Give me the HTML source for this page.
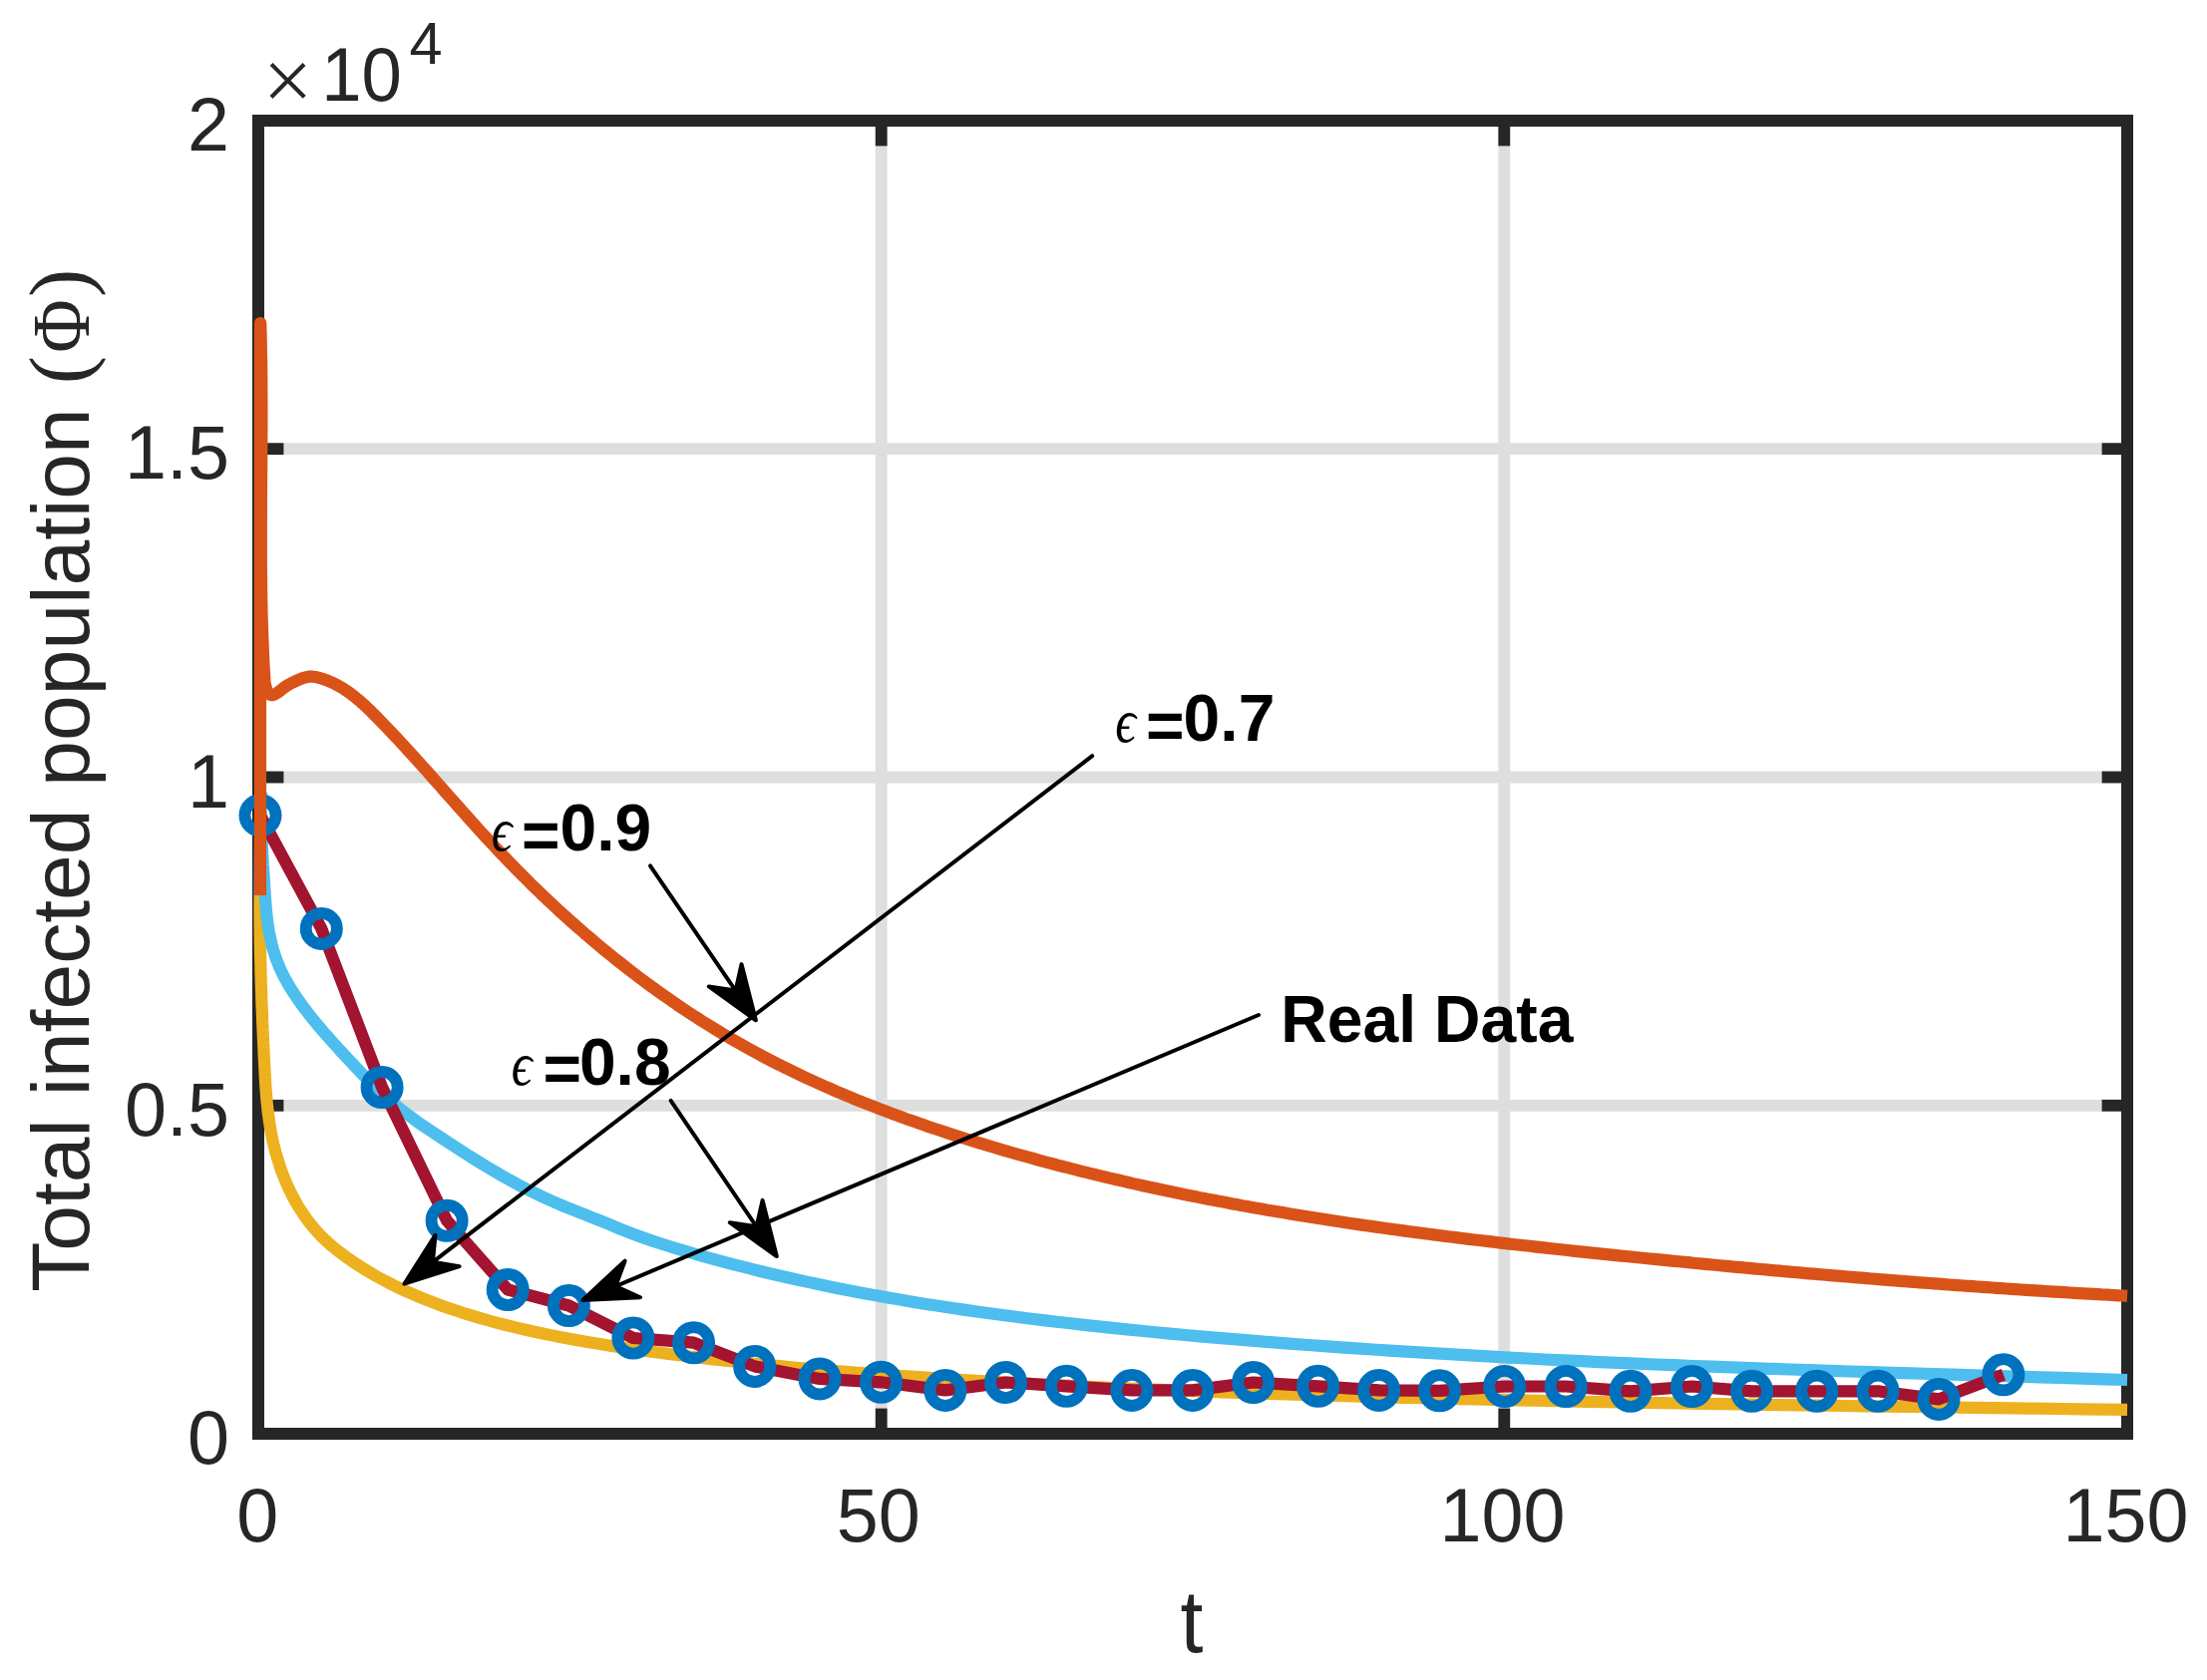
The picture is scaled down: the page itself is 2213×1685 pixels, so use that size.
<!DOCTYPE html>
<html lang="en"><head><meta charset="utf-8"><title>Total infected population</title>
<style>html,body{margin:0;padding:0;background:#fff}body{width:2213px;height:1685px;overflow:hidden}</style></head>
<body>
<svg width="2213" height="1685" viewBox="0 0 2213 1685" style="display:block">
<rect width="2213" height="1685" fill="#fff"/>
<line x1="883.7" y1="121.0" x2="883.7" y2="1438.0" stroke="#dedede" stroke-width="11.8"/>
<line x1="1508.3" y1="121.0" x2="1508.3" y2="1438.0" stroke="#dedede" stroke-width="11.8"/>
<line x1="259.0" y1="1108.8" x2="2133.0" y2="1108.8" stroke="#dedede" stroke-width="11.8"/>
<line x1="259.0" y1="779.5" x2="2133.0" y2="779.5" stroke="#dedede" stroke-width="11.8"/>
<line x1="259.0" y1="450.2" x2="2133.0" y2="450.2" stroke="#dedede" stroke-width="11.8"/>
<line x1="883.7" y1="1438.0" x2="883.7" y2="1412.6" stroke="#262626" stroke-width="11.8"/>
<line x1="883.7" y1="121.0" x2="883.7" y2="146.4" stroke="#262626" stroke-width="11.8"/>
<line x1="1508.3" y1="1438.0" x2="1508.3" y2="1412.6" stroke="#262626" stroke-width="11.8"/>
<line x1="1508.3" y1="121.0" x2="1508.3" y2="146.4" stroke="#262626" stroke-width="11.8"/>
<line x1="259.0" y1="1108.8" x2="284.4" y2="1108.8" stroke="#262626" stroke-width="11.8"/>
<line x1="2133.0" y1="1108.8" x2="2107.6" y2="1108.8" stroke="#262626" stroke-width="11.8"/>
<line x1="259.0" y1="779.5" x2="284.4" y2="779.5" stroke="#262626" stroke-width="11.8"/>
<line x1="2133.0" y1="779.5" x2="2107.6" y2="779.5" stroke="#262626" stroke-width="11.8"/>
<line x1="259.0" y1="450.2" x2="284.4" y2="450.2" stroke="#262626" stroke-width="11.8"/>
<line x1="2133.0" y1="450.2" x2="2107.6" y2="450.2" stroke="#262626" stroke-width="11.8"/>
<rect x="259.0" y="121.0" width="1874.0" height="1317.0" fill="none" stroke="#262626" stroke-width="12"/>
<path d="M260.6 898.0 L260.6 898.0 L260.6 898.0 L260.6 898.1 L260.6 898.1 L260.6 898.1 L260.6 898.2 L260.6 898.3 L260.6 898.3 L260.6 898.4 L260.6 898.5 L260.6 898.6 L260.6 898.7 L260.6 898.8 L260.6 898.9 L260.6 899.0 L260.6 899.1 L260.6 899.2 L260.6 899.4 L260.6 899.5 L260.6 899.7 L260.6 899.9 L260.6 900.0 L260.6 900.2 L260.6 900.4 L260.6 900.6 L260.6 900.8 L260.6 901.1 L260.6 901.3 L260.6 901.6 L260.6 901.8 L260.6 902.1 L260.6 902.4 L260.6 902.7 L260.6 903.0 L260.6 903.4 L260.5 903.7 L260.5 904.1 L260.5 904.5 L260.5 904.9 L260.5 905.3 L260.5 905.7 L260.5 906.2 L260.5 906.6 L260.5 907.1 L260.5 907.6 L260.5 908.1 L260.5 908.7 L260.5 909.2 L260.5 909.8 L260.5 910.4 L260.5 911.0 L260.5 911.6 L260.5 912.3 L260.5 913.0 L260.5 913.7 L260.5 914.4 L260.5 915.2 L260.5 916.0 L260.5 916.8 L260.5 917.6 L260.5 918.4 L260.5 919.3 L260.5 920.2 L260.5 921.2 L260.6 922.1 L260.6 923.1 L260.6 924.1 L260.6 925.2 L260.6 926.2 L260.6 927.3 L260.6 928.5 L260.6 929.6 L260.6 930.8 L260.6 932.1 L260.7 933.3 L260.7 934.6 L260.7 936.0 L260.7 937.3 L260.7 938.7 L260.7 940.1 L260.8 941.6 L260.8 943.1 L260.8 944.7 L260.8 946.2 L260.9 947.8 L260.9 949.5 L260.9 951.2 L261.0 952.9 L261.0 954.7 L261.0 956.5 L261.1 958.3 L261.1 960.2 L261.2 962.2 L261.2 964.1 L261.3 966.2 L261.3 968.2 L261.4 970.3 L261.4 972.5 L261.5 974.7 L261.5 976.9 L261.6 979.2 L261.7 981.5 L261.7 983.9 L261.8 986.4 L261.9 988.8 L262.0 991.4 L262.1 993.9 L262.2 996.6 L262.2 999.3 L262.3 1002.0 L262.4 1004.8 L262.5 1007.6 L262.6 1010.5 L262.8 1013.4 L262.9 1016.4 L263.0 1019.5 L263.1 1022.6 L263.2 1025.8 L263.4 1029.0 L263.5 1032.3 L263.7 1035.6 L263.8 1039.0 L264.0 1042.5 L264.1 1046.0 L264.3 1049.5 L264.5 1053.2 L264.6 1056.9 L264.8 1060.6 L265.0 1064.5 L265.2 1068.4 L265.4 1072.3 L265.6 1076.3 L265.8 1080.4 L266.1 1084.6 L266.3 1088.8 L266.6 1093.0 L267.0 1097.4 L267.3 1101.8 L267.7 1106.2 L268.2 1110.7 L268.7 1115.3 L269.3 1119.9 L270.0 1124.5 L270.7 1129.3 L271.5 1134.0 L272.4 1138.8 L273.4 1143.7 L274.6 1148.6 L275.8 1153.6 L277.2 1158.6 L278.7 1163.6 L280.3 1168.7 L282.0 1173.8 L284.0 1179.0 L286.1 1184.1 L288.3 1189.4 L290.8 1194.6 L293.4 1199.8 L296.2 1205.0 L299.2 1210.2 L302.5 1215.3 L305.9 1220.4 L309.6 1225.4 L313.5 1230.3 L317.7 1235.1 L322.1 1239.8 L326.8 1244.4 L331.7 1248.8 L336.9 1253.1 L342.3 1257.2 L347.9 1261.3 L353.6 1265.3 L359.5 1269.2 L365.6 1273.1 L371.8 1276.8 L378.2 1280.5 L384.7 1284.0 L391.4 1287.5 L398.2 1290.9 L405.1 1294.1 L412.2 1297.3 L419.4 1300.4 L426.8 1303.4 L434.3 1306.3 L441.9 1309.2 L449.6 1311.9 L457.5 1314.6 L465.5 1317.2 L473.6 1319.7 L481.8 1322.1 L490.2 1324.5 L498.7 1326.8 L507.3 1329.0 L516.0 1331.1 L524.9 1333.2 L533.9 1335.3 L543.0 1337.2 L552.2 1339.1 L561.5 1341.0 L571.0 1342.8 L580.6 1344.5 L590.3 1346.2 L600.1 1347.8 L610.1 1349.4 L620.1 1350.9 L630.3 1352.5 L640.6 1353.9 L650.9 1355.4 L661.4 1356.8 L672.1 1358.1 L682.8 1359.5 L693.6 1360.8 L704.6 1362.1 L715.6 1363.4 L726.8 1364.6 L738.1 1365.8 L749.5 1367.0 L761.0 1368.2 L772.6 1369.3 L784.3 1370.4 L796.2 1371.5 L808.2 1372.6 L820.3 1373.6 L832.5 1374.6 L844.8 1375.6 L857.3 1376.6 L869.9 1377.6 L882.6 1378.5 L895.4 1379.4 L908.3 1380.3 L921.4 1381.2 L934.6 1382.1 L947.9 1382.9 L961.3 1383.8 L974.9 1384.6 L988.6 1385.4 L1002.4 1386.2 L1016.4 1387.0 L1030.5 1387.7 L1044.7 1388.5 L1059.0 1389.2 L1073.5 1389.9 L1088.1 1390.6 L1102.8 1391.3 L1117.7 1392.0 L1132.7 1392.6 L1147.8 1393.3 L1163.1 1393.9 L1178.5 1394.5 L1194.0 1395.1 L1209.7 1395.7 L1225.5 1396.3 L1241.4 1396.8 L1257.5 1397.4 L1273.7 1397.9 L1290.1 1398.4 L1306.6 1398.9 L1323.2 1399.4 L1340.0 1399.9 L1356.9 1400.4 L1373.9 1400.9 L1391.1 1401.3 L1408.5 1401.8 L1426.0 1402.2 L1443.6 1402.6 L1461.4 1403.1 L1479.3 1403.5 L1497.4 1403.9 L1515.6 1404.3 L1533.9 1404.6 L1552.5 1405.0 L1571.1 1405.4 L1589.9 1405.8 L1608.9 1406.1 L1628.0 1406.5 L1647.2 1406.8 L1666.6 1407.1 L1686.2 1407.5 L1705.9 1407.8 L1725.8 1408.1 L1745.8 1408.4 L1766.0 1408.8 L1786.3 1409.1 L1806.8 1409.4 L1827.4 1409.7 L1848.2 1410.0 L1869.1 1410.3 L1890.3 1410.6 L1911.5 1410.9 L1932.9 1411.2 L1954.5 1411.5 L1976.3 1411.8 L1998.2 1412.1 L2020.2 1412.4 L2042.5 1412.7 L2064.9 1413.0 L2087.4 1413.3 L2110.1 1413.6 L2133.0 1413.9" fill="none" stroke="#edb120" stroke-width="12.2" stroke-linejoin="round" stroke-linecap="butt" />
<path d="M260.6 898.0 L261.2 797.0 L262.1 797.0 L262.1 797.0 L262.1 797.0 L262.1 797.1 L262.1 797.1 L262.1 797.2 L262.1 797.3 L262.1 797.3 L262.1 797.4 L262.0 797.5 L262.0 797.6 L262.0 797.7 L262.0 797.8 L262.0 797.9 L262.0 798.1 L262.0 798.2 L262.0 798.4 L261.9 798.5 L261.9 798.7 L261.9 798.8 L261.9 799.0 L261.9 799.2 L261.9 799.4 L261.9 799.6 L261.9 799.8 L261.8 800.1 L261.8 800.3 L261.8 800.5 L261.8 800.8 L261.8 801.1 L261.8 801.3 L261.8 801.6 L261.7 801.9 L261.7 802.3 L261.7 802.6 L261.7 802.9 L261.7 803.3 L261.7 803.7 L261.7 804.1 L261.7 804.5 L261.7 804.9 L261.6 805.3 L261.6 805.7 L261.6 806.2 L261.6 806.7 L261.6 807.2 L261.6 807.7 L261.6 808.2 L261.6 808.8 L261.6 809.3 L261.6 809.9 L261.6 810.5 L261.6 811.1 L261.6 811.8 L261.6 812.4 L261.6 813.1 L261.6 813.8 L261.6 814.5 L261.6 815.3 L261.7 816.1 L261.7 816.9 L261.7 817.7 L261.7 818.5 L261.7 819.4 L261.7 820.3 L261.8 821.2 L261.8 822.1 L261.8 823.1 L261.8 824.1 L261.9 825.1 L261.9 826.2 L261.9 827.3 L262.0 828.4 L262.0 829.5 L262.0 830.7 L262.1 831.9 L262.1 833.1 L262.2 834.4 L262.2 835.7 L262.3 837.0 L262.3 838.4 L262.4 839.8 L262.5 841.2 L262.5 842.7 L262.6 844.2 L262.7 845.8 L262.8 847.3 L262.8 849.0 L262.9 850.6 L263.0 852.3 L263.1 854.1 L263.2 855.9 L263.3 857.7 L263.4 859.5 L263.5 861.5 L263.6 863.4 L263.7 865.4 L263.8 867.5 L264.0 869.5 L264.1 871.7 L264.2 873.9 L264.4 876.1 L264.5 878.4 L264.7 880.7 L264.8 883.1 L265.0 885.5 L265.1 888.0 L265.3 890.6 L265.5 893.2 L265.7 895.8 L265.8 898.5 L266.0 901.3 L266.2 904.1 L266.4 906.9 L266.7 909.9 L266.9 912.8 L267.2 915.8 L267.5 918.9 L267.9 922.0 L268.3 925.2 L268.7 928.4 L269.2 931.6 L269.8 934.9 L270.5 938.2 L271.2 941.5 L271.9 944.9 L272.8 948.3 L273.7 951.8 L274.8 955.2 L275.9 958.7 L277.1 962.2 L278.5 965.8 L279.9 969.3 L281.5 972.9 L283.2 976.5 L285.0 980.0 L287.0 983.7 L289.0 987.3 L291.2 990.9 L293.5 994.6 L295.9 998.2 L298.4 1001.9 L301.0 1005.6 L303.7 1009.4 L306.6 1013.1 L309.5 1016.9 L312.5 1020.7 L315.6 1024.5 L318.8 1028.4 L322.1 1032.2 L325.4 1036.1 L328.9 1040.1 L332.4 1044.0 L336.0 1048.0 L339.6 1052.0 L343.3 1056.0 L347.1 1060.1 L350.9 1064.2 L354.8 1068.3 L358.8 1072.5 L362.8 1076.7 L366.9 1080.9 L371.2 1085.0 L375.5 1089.2 L379.9 1093.4 L384.4 1097.6 L389.1 1101.8 L393.8 1105.9 L398.8 1110.1 L403.8 1114.2 L409.1 1118.2 L414.5 1122.2 L420.0 1126.2 L425.8 1130.1 L431.6 1134.0 L437.5 1137.9 L443.5 1141.9 L449.6 1145.9 L455.8 1149.9 L462.0 1153.9 L468.3 1158.0 L474.7 1162.0 L481.2 1166.0 L487.8 1170.1 L494.5 1174.1 L501.3 1178.1 L508.3 1182.0 L515.4 1185.9 L522.6 1189.8 L530.0 1193.6 L537.6 1197.3 L545.3 1201.0 L553.1 1204.5 L561.1 1208.0 L569.2 1211.3 L577.5 1214.6 L585.8 1217.9 L594.3 1221.3 L602.8 1224.7 L611.4 1228.2 L620.0 1231.8 L628.8 1235.4 L637.7 1238.8 L646.8 1242.1 L656.1 1245.3 L665.5 1248.3 L675.0 1251.3 L684.7 1254.2 L694.5 1257.0 L704.4 1259.8 L714.5 1262.6 L724.7 1265.4 L734.9 1268.1 L745.4 1270.7 L755.9 1273.4 L766.5 1276.0 L777.3 1278.5 L788.2 1281.0 L799.2 1283.5 L810.3 1285.9 L821.6 1288.3 L833.0 1290.7 L844.5 1293.0 L856.1 1295.2 L867.8 1297.5 L879.7 1299.6 L891.7 1301.8 L903.9 1303.8 L916.1 1305.9 L928.5 1307.9 L941.0 1309.8 L953.7 1311.8 L966.4 1313.6 L979.3 1315.5 L992.3 1317.3 L1005.5 1319.0 L1018.8 1320.8 L1032.2 1322.5 L1045.7 1324.1 L1059.4 1325.7 L1073.2 1327.3 L1087.1 1328.9 L1101.2 1330.4 L1115.3 1331.9 L1129.7 1333.4 L1144.1 1334.8 L1158.7 1336.2 L1173.4 1337.6 L1188.2 1339.0 L1203.2 1340.3 L1218.3 1341.6 L1233.5 1342.9 L1248.9 1344.2 L1264.4 1345.4 L1280.0 1346.7 L1295.8 1347.9 L1311.7 1349.0 L1327.7 1350.2 L1343.9 1351.3 L1360.2 1352.4 L1376.7 1353.5 L1393.3 1354.6 L1410.0 1355.7 L1426.9 1356.7 L1443.9 1357.7 L1461.1 1358.7 L1478.4 1359.7 L1495.9 1360.7 L1513.5 1361.6 L1531.2 1362.5 L1549.1 1363.5 L1567.1 1364.3 L1585.3 1365.2 L1603.6 1366.1 L1622.1 1366.9 L1640.7 1367.7 L1659.4 1368.5 L1678.3 1369.2 L1697.4 1370.0 L1716.6 1370.7 L1736.0 1371.4 L1755.5 1372.1 L1775.1 1372.8 L1794.9 1373.5 L1814.9 1374.2 L1835.0 1374.8 L1855.3 1375.5 L1875.7 1376.1 L1896.3 1376.8 L1917.0 1377.4 L1937.9 1378.0 L1958.9 1378.7 L1980.1 1379.3 L2001.5 1380.0 L2023.0 1380.6 L2044.7 1381.3 L2066.5 1381.9 L2088.5 1382.6 L2110.7 1383.3 L2133.0 1384.0" fill="none" stroke="#4dbeee" stroke-width="12.2" stroke-linejoin="round" stroke-linecap="butt" />
<path d="M261.0 817.8 L322.3 931.4 L383.1 1090.5 L448.1 1224.3 L509.2 1293.5 L570.4 1309.5 L634.9 1342.0 L695.6 1346.7 L756.7 1370.4 L822.0 1382.9 L883.5 1386.3 L947.9 1394.4 L1008.5 1386.5 L1069.4 1390.3 L1134.9 1394.4 L1195.8 1394.4 L1256.7 1386.5 L1321.7 1390.3 L1382.6 1394.4 L1443.5 1394.8 L1508.7 1390.5 L1570.2 1390.5 L1635.0 1395.3 L1696.5 1390.5 L1756.6 1395.3 L1821.8 1395.3 L1883.0 1395.3 L1944.0 1403.4 L2008.9 1378.8" fill="none" stroke="#a2142f" stroke-width="12.2" stroke-linejoin="round"/>
<circle cx="261.0" cy="817.8" r="15.6" fill="none" stroke="#0072bd" stroke-width="11.8"/>
<circle cx="322.3" cy="931.4" r="15.6" fill="none" stroke="#0072bd" stroke-width="11.8"/>
<circle cx="383.1" cy="1090.5" r="15.6" fill="none" stroke="#0072bd" stroke-width="11.8"/>
<circle cx="448.1" cy="1224.3" r="15.6" fill="none" stroke="#0072bd" stroke-width="11.8"/>
<circle cx="509.2" cy="1293.5" r="15.6" fill="none" stroke="#0072bd" stroke-width="11.8"/>
<circle cx="570.4" cy="1309.5" r="15.6" fill="none" stroke="#0072bd" stroke-width="11.8"/>
<circle cx="634.9" cy="1342.0" r="15.6" fill="none" stroke="#0072bd" stroke-width="11.8"/>
<circle cx="695.6" cy="1346.7" r="15.6" fill="none" stroke="#0072bd" stroke-width="11.8"/>
<circle cx="756.7" cy="1370.4" r="15.6" fill="none" stroke="#0072bd" stroke-width="11.8"/>
<circle cx="822.0" cy="1382.9" r="15.6" fill="none" stroke="#0072bd" stroke-width="11.8"/>
<circle cx="883.5" cy="1386.3" r="15.6" fill="none" stroke="#0072bd" stroke-width="11.8"/>
<circle cx="947.9" cy="1394.4" r="15.6" fill="none" stroke="#0072bd" stroke-width="11.8"/>
<circle cx="1008.5" cy="1386.5" r="15.6" fill="none" stroke="#0072bd" stroke-width="11.8"/>
<circle cx="1069.4" cy="1390.3" r="15.6" fill="none" stroke="#0072bd" stroke-width="11.8"/>
<circle cx="1134.9" cy="1394.4" r="15.6" fill="none" stroke="#0072bd" stroke-width="11.8"/>
<circle cx="1195.8" cy="1394.4" r="15.6" fill="none" stroke="#0072bd" stroke-width="11.8"/>
<circle cx="1256.7" cy="1386.5" r="15.6" fill="none" stroke="#0072bd" stroke-width="11.8"/>
<circle cx="1321.7" cy="1390.3" r="15.6" fill="none" stroke="#0072bd" stroke-width="11.8"/>
<circle cx="1382.6" cy="1394.4" r="15.6" fill="none" stroke="#0072bd" stroke-width="11.8"/>
<circle cx="1443.5" cy="1394.8" r="15.6" fill="none" stroke="#0072bd" stroke-width="11.8"/>
<circle cx="1508.7" cy="1390.5" r="15.6" fill="none" stroke="#0072bd" stroke-width="11.8"/>
<circle cx="1570.2" cy="1390.5" r="15.6" fill="none" stroke="#0072bd" stroke-width="11.8"/>
<circle cx="1635.0" cy="1395.3" r="15.6" fill="none" stroke="#0072bd" stroke-width="11.8"/>
<circle cx="1696.5" cy="1390.5" r="15.6" fill="none" stroke="#0072bd" stroke-width="11.8"/>
<circle cx="1756.6" cy="1395.3" r="15.6" fill="none" stroke="#0072bd" stroke-width="11.8"/>
<circle cx="1821.8" cy="1395.3" r="15.6" fill="none" stroke="#0072bd" stroke-width="11.8"/>
<circle cx="1883.0" cy="1395.3" r="15.6" fill="none" stroke="#0072bd" stroke-width="11.8"/>
<circle cx="1944.0" cy="1403.4" r="15.6" fill="none" stroke="#0072bd" stroke-width="11.8"/>
<circle cx="2008.9" cy="1378.8" r="15.6" fill="none" stroke="#0072bd" stroke-width="11.8"/>
<path d="M261.0 898.0 L261.0 324.0 L261.2 324.0 L261.5 333.5 L261.7 343.0 L261.9 352.6 L262.1 362.1 L262.2 371.6 L262.3 381.1 L262.3 390.6 L262.4 400.0 L262.4 409.5 L262.4 419.0 L262.4 428.5 L262.3 437.9 L262.3 447.4 L262.2 456.9 L262.2 466.3 L262.1 475.8 L262.0 485.3 L262.0 494.7 L261.9 504.2 L261.9 513.7 L261.8 523.1 L261.8 532.6 L261.8 542.1 L261.8 551.5 L261.8 561.0 L261.9 570.5 L262.0 580.0 L262.1 589.5 L262.2 599.0 L262.4 608.5 L262.6 618.0 L262.9 627.5 L263.2 637.0 L263.6 646.5 L264.0 656.0 L264.4 665.6 L265.0 675.1 L265.5 684.7 L267.7 693.7 L268.3 694.5 L268.9 695.2 L269.6 695.9 L270.3 696.4 L271.0 696.8 L271.8 697.1 L272.6 697.1 L273.4 697.1 L274.2 696.9 L275.0 696.6 L275.9 696.2 L276.7 695.7 L277.5 695.2 L278.3 694.7 L279.0 694.2 L279.8 693.6 L280.6 693.0 L281.3 692.4 L282.0 691.9 L282.8 691.3 L283.5 690.7 L284.3 690.1 L285.0 689.5 L285.8 689.0 L286.5 688.4 L287.3 687.9 L288.0 687.5 L288.8 687.0 L289.6 686.6 L290.4 686.1 L291.2 685.7 L292.0 685.3 L292.8 684.9 L293.6 684.5 L294.4 684.1 L295.3 683.7 L296.1 683.3 L296.9 682.9 L297.8 682.5 L298.6 682.2 L299.5 681.8 L300.3 681.4 L301.2 681.1 L302.0 680.7 L302.9 680.4 L303.8 680.1 L304.6 679.8 L305.5 679.6 L306.4 679.4 L307.3 679.2 L308.2 679.0 L309.1 678.9 L310.0 678.7 L310.9 678.7 L311.8 678.6 L312.7 678.7 L313.6 678.7 L314.5 678.8 L315.4 678.9 L316.4 679.0 L317.3 679.2 L318.2 679.4 L319.1 679.6 L320.0 679.9 L320.9 680.1 L321.8 680.4 L322.7 680.6 L323.6 680.9 L324.5 681.2 L325.4 681.5 L326.2 681.8 L327.1 682.1 L328.0 682.5 L328.8 682.8 L329.7 683.1 L330.5 683.5 L331.4 683.9 L332.2 684.2 L333.0 684.6 L333.9 685.0 L334.7 685.4 L335.5 685.8 L336.3 686.2 L337.1 686.6 L337.9 687.0 L338.7 687.5 L339.5 687.9 L340.3 688.3 L341.1 688.8 L341.9 689.3 L342.7 689.7 L343.4 690.2 L344.2 690.7 L345.0 691.2 L345.7 691.7 L346.5 692.2 L347.2 692.7 L348.0 693.2 L348.7 693.7 L349.5 694.2 L350.2 694.7 L351.0 695.3 L351.7 695.8 L352.4 696.3 L353.1 696.9 L353.9 697.5 L354.6 698.0 L355.3 698.6 L356.0 699.1 L356.7 699.7 L357.4 700.3 L358.1 700.9 L358.8 701.5 L359.5 702.0 L360.2 702.6 L360.9 703.2 L361.6 703.8 L362.3 704.4 L363.0 705.1 L363.6 705.7 L364.4 706.3 L367.9 709.6 L371.5 713.0 L374.9 716.5 L378.4 719.9 L381.8 723.4 L385.2 726.9 L388.5 730.4 L391.9 734.0 L395.2 737.5 L398.6 741.0 L401.9 744.6 L405.2 748.2 L408.5 751.8 L411.7 755.3 L415.0 758.9 L418.2 762.5 L421.5 766.1 L424.7 769.7 L428.0 773.3 L431.2 777.0 L434.4 780.6 L437.6 784.2 L440.8 787.8 L444.0 791.5 L447.2 795.1 L450.4 798.7 L453.6 802.3 L456.8 805.9 L460.1 809.6 L463.3 813.2 L466.5 816.8 L469.7 820.4 L472.9 824.0 L476.2 827.6 L479.4 831.2 L482.7 834.8 L485.9 838.3 L489.2 841.9 L492.5 845.4 L495.8 849.0 L499.1 852.5 L502.4 856.0 L505.8 859.5 L509.1 863.0 L512.5 866.5 L515.9 870.0 L519.3 873.5 L522.7 876.9 L526.1 880.3 L529.6 883.8 L533.0 887.2 L536.5 890.6 L540.0 893.9 L543.5 897.3 L547.0 900.6 L550.5 904.0 L554.1 907.3 L557.6 910.6 L561.2 913.9 L564.8 917.2 L568.4 920.4 L572.0 923.7 L575.6 926.9 L579.3 930.1 L582.9 933.3 L586.6 936.5 L590.3 939.7 L594.0 942.8 L597.7 946.0 L601.4 949.1 L605.2 952.2 L608.9 955.3 L612.7 958.3 L616.5 961.4 L620.3 964.4 L624.1 967.4 L627.9 970.4 L631.7 973.4 L635.6 976.3 L639.4 979.3 L643.3 982.2 L647.2 985.1 L651.1 988.0 L655.0 990.8 L659.0 993.7 L662.9 996.5 L666.9 999.3 L670.9 1002.1 L674.8 1004.8 L678.8 1007.6 L682.9 1010.3 L686.9 1013.0 L690.9 1015.7 L695.0 1018.3 L699.1 1020.9 L703.1 1023.6 L707.2 1026.1 L711.3 1028.7 L715.5 1031.3 L719.6 1033.8 L723.7 1036.3 L727.9 1038.7 L732.1 1041.2 L736.3 1043.6 L740.5 1046.0 L744.7 1048.4 L748.9 1050.8 L753.1 1053.1 L757.4 1055.4 L761.6 1057.7 L765.9 1060.0 L770.2 1062.2 L774.5 1064.5 L778.8 1066.7 L783.1 1068.8 L787.5 1071.0 L791.8 1073.1 L796.2 1075.2 L800.5 1077.3 L804.9 1079.4 L809.3 1081.5 L813.7 1083.5 L818.1 1085.5 L822.5 1087.5 L826.9 1089.5 L831.4 1091.4 L835.8 1093.4 L840.3 1095.3 L844.7 1097.2 L849.2 1099.1 L853.7 1100.9 L858.2 1102.8 L862.7 1104.6 L867.2 1106.4 L871.7 1108.2 L876.2 1109.9 L880.7 1111.7 L885.3 1113.4 L889.8 1115.2 L894.3 1116.9 L898.9 1118.5 L903.5 1120.2 L908.0 1121.9 L912.6 1123.5 L917.2 1125.1 L921.8 1126.7 L926.3 1128.3 L930.9 1129.9 L935.5 1131.5 L940.2 1133.0 L944.8 1134.6 L949.4 1136.1 L954.0 1137.6 L958.6 1139.1 L963.3 1140.6 L967.9 1142.0 L972.5 1143.5 L977.2 1144.9 L981.8 1146.3 L986.5 1147.7 L991.1 1149.1 L995.8 1150.5 L1000.4 1151.9 L1005.1 1153.3 L1009.7 1154.6 L1014.4 1156.0 L1019.1 1157.3 L1023.7 1158.6 L1028.4 1159.9 L1033.1 1161.2 L1037.8 1162.5 L1042.5 1163.8 L1047.1 1165.1 L1051.8 1166.3 L1056.5 1167.5 L1061.2 1168.8 L1065.9 1170.0 L1070.6 1171.2 L1075.3 1172.4 L1080.0 1173.6 L1084.7 1174.8 L1089.4 1175.9 L1094.1 1177.1 L1098.8 1178.2 L1103.5 1179.4 L1108.2 1180.5 L1112.9 1181.6 L1117.7 1182.7 L1122.4 1183.8 L1127.1 1184.9 L1131.8 1186.0 L1136.5 1187.1 L1141.3 1188.1 L1146.0 1189.2 L1150.7 1190.2 L1155.5 1191.2 L1160.2 1192.3 L1164.9 1193.3 L1169.7 1194.3 L1174.4 1195.3 L1179.2 1196.3 L1183.9 1197.2 L1188.6 1198.2 L1193.4 1199.2 L1198.1 1200.1 L1202.9 1201.1 L1207.7 1202.0 L1212.4 1202.9 L1217.2 1203.8 L1221.9 1204.7 L1226.7 1205.6 L1231.4 1206.5 L1236.2 1207.4 L1241.0 1208.3 L1245.7 1209.2 L1250.5 1210.0 L1255.3 1210.9 L1260.0 1211.7 L1264.8 1212.6 L1269.6 1213.4 L1274.4 1214.2 L1279.1 1215.0 L1283.9 1215.8 L1288.7 1216.6 L1293.5 1217.4 L1298.3 1218.2 L1303.1 1219.0 L1307.8 1219.8 L1312.6 1220.6 L1317.4 1221.3 L1322.2 1222.1 L1327.0 1222.8 L1331.8 1223.6 L1336.6 1224.3 L1341.4 1225.0 L1346.2 1225.7 L1351.0 1226.5 L1355.8 1227.2 L1360.6 1227.9 L1365.4 1228.6 L1370.2 1229.3 L1375.0 1229.9 L1379.8 1230.6 L1384.6 1231.3 L1389.4 1232.0 L1394.2 1232.6 L1399.0 1233.3 L1403.8 1233.9 L1408.6 1234.6 L1413.4 1235.2 L1418.2 1235.9 L1423.0 1236.5 L1427.8 1237.1 L1432.7 1237.8 L1437.5 1238.4 L1442.3 1239.0 L1447.1 1239.6 L1451.9 1240.2 L1456.7 1240.8 L1461.5 1241.4 L1466.4 1242.0 L1471.2 1242.6 L1476.0 1243.2 L1480.8 1243.7 L1485.6 1244.3 L1490.5 1244.9 L1495.3 1245.4 L1500.1 1246.0 L1504.9 1246.6 L1509.7 1247.1 L1514.6 1247.7 L1519.4 1248.2 L1524.2 1248.8 L1529.0 1249.3 L1533.9 1249.8 L1538.7 1250.4 L1543.5 1250.9 L1548.3 1251.4 L1553.2 1252.0 L1558.0 1252.5 L1562.8 1253.0 L1567.6 1253.5 L1572.5 1254.0 L1577.3 1254.6 L1582.1 1255.1 L1586.9 1255.6 L1591.8 1256.1 L1596.6 1256.6 L1601.4 1257.1 L1606.2 1257.6 L1611.1 1258.1 L1615.9 1258.6 L1620.7 1259.1 L1625.5 1259.6 L1630.4 1260.0 L1635.2 1260.5 L1640.0 1261.0 L1644.9 1261.5 L1649.7 1262.0 L1654.5 1262.5 L1659.3 1262.9 L1664.2 1263.4 L1669.0 1263.9 L1673.8 1264.4 L1678.6 1264.8 L1683.5 1265.3 L1688.3 1265.8 L1693.1 1266.2 L1697.9 1266.7 L1702.8 1267.2 L1707.6 1267.6 L1712.4 1268.1 L1717.2 1268.5 L1722.1 1269.0 L1726.9 1269.5 L1731.7 1269.9 L1736.5 1270.4 L1741.4 1270.8 L1746.2 1271.2 L1751.0 1271.7 L1755.9 1272.1 L1760.7 1272.6 L1765.5 1273.0 L1770.3 1273.4 L1775.2 1273.9 L1780.0 1274.3 L1784.8 1274.7 L1789.6 1275.2 L1794.5 1275.6 L1799.3 1276.0 L1804.1 1276.4 L1808.9 1276.9 L1813.8 1277.3 L1818.6 1277.7 L1823.4 1278.1 L1828.3 1278.5 L1833.1 1278.9 L1837.9 1279.3 L1842.7 1279.7 L1847.6 1280.1 L1852.4 1280.5 L1857.2 1280.9 L1862.1 1281.3 L1866.9 1281.7 L1871.7 1282.1 L1876.5 1282.5 L1881.4 1282.9 L1886.2 1283.3 L1891.0 1283.7 L1895.9 1284.1 L1900.7 1284.4 L1905.5 1284.8 L1910.4 1285.2 L1915.2 1285.6 L1920.0 1285.9 L1924.9 1286.3 L1929.7 1286.7 L1934.5 1287.0 L1939.4 1287.4 L1944.2 1287.7 L1949.0 1288.1 L1953.9 1288.5 L1958.7 1288.8 L1963.5 1289.2 L1968.4 1289.5 L1973.2 1289.8 L1978.0 1290.2 L1982.9 1290.5 L1987.7 1290.9 L1992.5 1291.2 L1997.4 1291.5 L2002.2 1291.9 L2007.1 1292.2 L2011.9 1292.5 L2016.7 1292.8 L2021.6 1293.2 L2026.4 1293.5 L2031.3 1293.8 L2036.1 1294.1 L2040.9 1294.4 L2045.8 1294.7 L2050.6 1295.0 L2055.5 1295.3 L2060.3 1295.6 L2065.1 1295.9 L2070.0 1296.2 L2074.8 1296.5 L2079.7 1296.8 L2084.5 1297.1 L2089.4 1297.4 L2094.2 1297.6 L2099.1 1297.9 L2103.9 1298.2 L2108.8 1298.5 L2113.6 1298.7 L2118.5 1299.0 L2123.3 1299.3 L2128.2 1299.5 L2133.0 1299.8" fill="none" stroke="#d95319" stroke-width="12.2" stroke-linejoin="round" stroke-linecap="butt" />
<line x1="652.0" y1="868.4" x2="737.6" y2="993.6" stroke="#000" stroke-width="4.0" stroke-linecap="round"/><polygon points="757.9,1023.3 710.8,989.5 737.6,993.6 743.5,967.1" fill="#000" stroke="#000" stroke-width="4.0" stroke-linejoin="round"/>
<line x1="1095.2" y1="758.2" x2="433.9" y2="1265.8" stroke="#000" stroke-width="4.0" stroke-linecap="round"/><polygon points="405.4,1287.7 436.5,1238.8 433.9,1265.8 460.6,1270.2" fill="#000" stroke="#000" stroke-width="4.0" stroke-linejoin="round"/>
<line x1="672.6" y1="1103.9" x2="758.6" y2="1230.3" stroke="#000" stroke-width="4.0" stroke-linecap="round"/><polygon points="778.8,1260.1 731.8,1226.2 758.6,1230.3 764.6,1203.9" fill="#000" stroke="#000" stroke-width="4.0" stroke-linejoin="round"/>
<line x1="1262.0" y1="1018.0" x2="617.3" y2="1290.1" stroke="#000" stroke-width="4.0" stroke-linecap="round"/><polygon points="584.1,1304.1 626.6,1264.7 617.3,1290.1 642.0,1301.2" fill="#000" stroke="#000" stroke-width="4.0" stroke-linejoin="round"/>
<text x="258.3" y="1545.5" font-family="'Liberation Sans', Arial, Helvetica, sans-serif" font-size="75.5" fill="#262626" text-anchor="middle">0</text>
<text x="880.7" y="1545.5" font-family="'Liberation Sans', Arial, Helvetica, sans-serif" font-size="75.5" fill="#262626" text-anchor="middle">50</text>
<text x="1506.5" y="1545.5" font-family="'Liberation Sans', Arial, Helvetica, sans-serif" font-size="75.5" fill="#262626" text-anchor="middle">100</text>
<text x="2131.6" y="1545.5" font-family="'Liberation Sans', Arial, Helvetica, sans-serif" font-size="75.5" fill="#262626" text-anchor="middle">150</text>
<text x="230" y="1468.0" font-family="'Liberation Sans', Arial, Helvetica, sans-serif" font-size="75.5" fill="#262626" text-anchor="end">0</text>
<text x="230" y="1138.8" font-family="'Liberation Sans', Arial, Helvetica, sans-serif" font-size="75.5" fill="#262626" text-anchor="end">0.5</text>
<text x="230" y="809.5" font-family="'Liberation Sans', Arial, Helvetica, sans-serif" font-size="75.5" fill="#262626" text-anchor="end">1</text>
<text x="230" y="480.2" font-family="'Liberation Sans', Arial, Helvetica, sans-serif" font-size="75.5" fill="#262626" text-anchor="end">1.5</text>
<text x="230" y="151.0" font-family="'Liberation Sans', Arial, Helvetica, sans-serif" font-size="75.5" fill="#262626" text-anchor="end">2</text>
<text x="262.9" y="110.4" font-family="'Liberation Sans', Arial, Helvetica, sans-serif" font-size="87.5" fill="#262626" stroke="#fff" stroke-width="2">×</text>
<text x="322.3" y="100.8" font-family="'Liberation Sans', Arial, Helvetica, sans-serif" font-size="75.5" fill="#262626" textLength="80.6" lengthAdjust="spacingAndGlyphs">10</text>
<text x="410.6" y="63.7" font-family="'Liberation Sans', Arial, Helvetica, sans-serif" font-size="59.5" fill="#262626">4</text>
<text transform="translate(1195,1657.2) scale(1,1.07)" x="0" y="0" font-family="'Liberation Sans', Arial, Helvetica, sans-serif" font-size="82.5" fill="#262626" text-anchor="middle">t</text>
<g transform="translate(88.8,1295.8) rotate(-90)"><text x="0" y="0" font-family="'Liberation Sans', Arial, Helvetica, sans-serif" font-size="82.2" fill="#262626">Total infected population</text><text x="910.5" y="-0.5" font-family="'Liberation Serif', 'DejaVu Serif', serif" font-size="85" fill="#262626">(</text><text transform="translate(944.3,0) scale(0.877,1)" x="-2.55" y="0" font-family="'Liberation Serif', 'DejaVu Serif', serif" font-size="83.5" fill="#262626">Φ</text><text x="997.8" y="-0.5" font-family="'Liberation Serif', 'DejaVu Serif', serif" font-size="85" fill="#262626">)</text></g>
<text transform="translate(494.2,853.4) scale(0.85,1)" x="-1.8" y="0" font-family="'Liberation Serif', 'DejaVu Serif', serif" font-size="60.4" font-style="italic" fill="#000">ϵ</text>
<text x="523.0" y="860.5" font-family="'Liberation Sans', Arial, Helvetica, sans-serif" font-size="66" font-weight="bold" fill="#000">=</text>
<text x="561.5" y="852.8" font-family="'Liberation Sans', Arial, Helvetica, sans-serif" font-size="66" font-weight="bold" fill="#000">0.9</text>
<text transform="translate(1119.8,743.5) scale(0.85,1)" x="-1.8" y="0" font-family="'Liberation Serif', 'DejaVu Serif', serif" font-size="60.4" font-style="italic" fill="#000">ϵ</text>
<text x="1149.1" y="750.6" font-family="'Liberation Sans', Arial, Helvetica, sans-serif" font-size="66" font-weight="bold" fill="#000">=</text>
<text x="1186.6" y="742.9" font-family="'Liberation Sans', Arial, Helvetica, sans-serif" font-size="66" font-weight="bold" fill="#000">0.7</text>
<text transform="translate(514.2,1088.3) scale(0.85,1)" x="-1.8" y="0" font-family="'Liberation Serif', 'DejaVu Serif', serif" font-size="60.4" font-style="italic" fill="#000">ϵ</text>
<text x="544.4" y="1095.4" font-family="'Liberation Sans', Arial, Helvetica, sans-serif" font-size="66" font-weight="bold" fill="#000">=</text>
<text x="580.9" y="1087.7" font-family="'Liberation Sans', Arial, Helvetica, sans-serif" font-size="66" font-weight="bold" fill="#000">0.8</text>
<text x="1284.3" y="1045.1" font-family="'Liberation Sans', Arial, Helvetica, sans-serif" font-size="66" font-weight="bold" fill="#000" textLength="293.3" lengthAdjust="spacingAndGlyphs">Real Data</text>
</svg>
</body></html>
